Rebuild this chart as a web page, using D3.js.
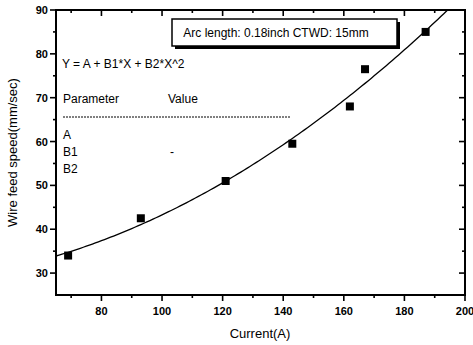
<!DOCTYPE html>
<html>
<head>
<meta charset="utf-8">
<script src="https://cdn.jsdelivr.net/npm/d3@7"></script>
<style>
  body { margin: 0; background: #fff; }
  svg { font-family: "Liberation Sans", Arial, sans-serif; }
</style>
</head>
<body>
<script>
// data
current = [69, 93, 121, 143, 162, 167, 187];
speed = [34, 42.5, 51, 59.5, 68, 76.5, 85];
xTicks = [80, 100, 120, 140, 160, 180, 200];
yTicks = [30, 40, 50, 60, 70, 80, 90];
paramNames = ["A", "B1", "B2"];
paramValues = ["", "-", ""];

w = 473;
h = 345;
margin = {top: 10, right: 8, bottom: 50, left: 56};

svg = d3.select("body")
  .append("svg")
    .attr("width", w)
    .attr("height", h);

x = d3.scaleLinear().domain([65, 200]).range([margin.left, w - margin.right]);
y = d3.scaleLinear().domain([25, 90]).range([h - margin.bottom, margin.top]);

// least squares quadratic fit  Y = A + B1*X + B2*X^2
function quadFit(xs, ys) {
  var s = [0, 0, 0, 0, 0], t = [0, 0, 0];
  xs.forEach((xv, i) => {
    for (var k = 0; k < 5; k++) s[k] += Math.pow(xv, k);
    for (var k = 0; k < 3; k++) t[k] += ys[i] * Math.pow(xv, k);
  });
  var m = [[s[0], s[1], s[2], t[0]], [s[1], s[2], s[3], t[1]], [s[2], s[3], s[4], t[2]]];
  for (var c = 0; c < 3; c++) {
    for (var r = c + 1; r < 3; r++) {
      var f = m[r][c] / m[c][c];
      for (var k = c; k < 4; k++) m[r][k] -= f * m[c][k];
    }
  }
  var b = [0, 0, 0];
  for (var r = 2; r >= 0; r--) {
    var v = m[r][3];
    for (var k = r + 1; k < 3; k++) v -= m[r][k] * b[k];
    b[r] = v / m[r][r];
  }
  return b;
}
coef = quadFit(current, speed);
fitX = d3.range(65, 200.5, 1);

svg.append("clipPath").attr("id", "clip")
  .append("rect")
    .attr("x", margin.left).attr("y", margin.top)
    .attr("width", w - margin.left - margin.right)
    .attr("height", h - margin.top - margin.bottom);

svg.append("path")
  .datum(fitX)
  .attr("clip-path", "url(#clip)")
  .attr("fill", "none")
  .attr("stroke", "#000")
  .attr("stroke-width", 1.3)
  .attr("d", d3.line()
    .x(d => x(d))
    .y(d => y(coef[0] + coef[1] * d + coef[2] * d * d)));

// points
svg.selectAll("rect.pt")
  .data(current)
  .enter()
  .append("rect")
    .attr("class", "pt")
    .attr("x", (d) => x(d) - 4)
    .attr("y", (d, i) => y(speed[i]) - 4)
    .attr("width", 8)
    .attr("height", 8)
    .attr("fill", "#000");

// axes
var minorX = d3.range(70, 200, 20);
var minorY = d3.range(35, 90, 10);
var axes = svg.append("g").attr("stroke", "#000").attr("fill", "none");

function ticksX(vals, yPos, len) {
  axes.selectAll(null).data(vals).enter().append("line")
    .attr("x1", d => x(d)).attr("x2", d => x(d))
    .attr("y1", yPos).attr("y2", yPos + len)
    .attr("stroke-width", 1.6);
}
function ticksY(vals, xPos, len) {
  axes.selectAll(null).data(vals).enter().append("line")
    .attr("y1", d => y(d)).attr("y2", d => y(d))
    .attr("x1", xPos).attr("x2", xPos + len)
    .attr("stroke-width", 1.6);
}
ticksX(xTicks, y(25), 6);
ticksX(minorX, y(25), 3);
ticksX(xTicks, y(90), 6);
ticksX(minorX, y(90), 3);
ticksY(yTicks, x(65), -6);
ticksY(minorY, x(65), -3);
ticksY(yTicks, x(200), -6);
ticksY(minorY, x(200), -3);

axes.append("rect")
  .attr("x", x(65)).attr("y", y(90))
  .attr("width", x(200) - x(65))
  .attr("height", y(25) - y(90))
  .attr("stroke-width", 2);

// tick labels
svg.selectAll("text.xt")
  .data(xTicks)
  .enter()
  .append("text")
    .attr("x", d => x(d))
    .attr("y", y(25) + 20)
    .attr("text-anchor", "middle")
    .attr("font-size", 11)
    .attr("font-weight", "bold")
    .text(d => d);

svg.selectAll("text.yt")
  .data(yTicks)
  .enter()
  .append("text")
    .attr("x", x(65) - 8)
    .attr("y", d => y(d) + 4)
    .attr("text-anchor", "end")
    .attr("font-size", 11)
    .attr("font-weight", "bold")
    .text(d => d);

// axis titles
svg.append("text")
  .attr("x", 260).attr("y", 338)
  .attr("text-anchor", "middle")
  .attr("font-size", 13)
  .text("Current(A)");

svg.append("text")
  .attr("transform", "translate(17," + y(57.5) + ") rotate(-90)")
  .attr("text-anchor", "middle")
  .attr("font-size", 13)
  .text("Wire feed speed(mm/sec)");

// legend box with shadow
svg.append("rect")
  .attr("x", 175).attr("y", 22).attr("width", 225).attr("height", 27)
  .attr("fill", "#000");
svg.append("rect")
  .attr("x", 172).attr("y", 19).attr("width", 225).attr("height", 27)
  .attr("fill", "#fff").attr("stroke", "#000").attr("stroke-width", 1.5);
svg.append("text")
  .attr("x", 276).attr("y", 37)
  .attr("text-anchor", "middle")
  .attr("font-size", 12)
  .text("Arc length: 0.18inch CTWD: 15mm");

// fit parameter table
svg.append("text")
  .attr("x", 62).attr("y", 68)
  .attr("font-size", 12)
  .text("Y = A + B1*X + B2*X^2");
svg.append("text")
  .attr("x", 63).attr("y", 103)
  .attr("font-size", 12)
  .text("Parameter");
svg.append("text")
  .attr("x", 168).attr("y", 103)
  .attr("font-size", 12)
  .text("Value");
svg.append("line")
  .attr("x1", 63).attr("x2", 291)
  .attr("y1", 117).attr("y2", 117)
  .attr("stroke", "#000")
  .attr("stroke-width", 1)
  .attr("stroke-dasharray", "2,1");
svg.selectAll("text.pn")
  .data(paramNames)
  .enter()
  .append("text")
    .attr("x", 63)
    .attr("y", (d, i) => 139 + i * 17)
    .attr("font-size", 12)
    .text(d => d);
svg.selectAll("text.pv")
  .data(paramValues)
  .enter()
  .append("text")
    .attr("x", 170)
    .attr("y", (d, i) => 139 + i * 17)
    .attr("font-size", 12)
    .text(d => d);
</script>
</body>
</html>
